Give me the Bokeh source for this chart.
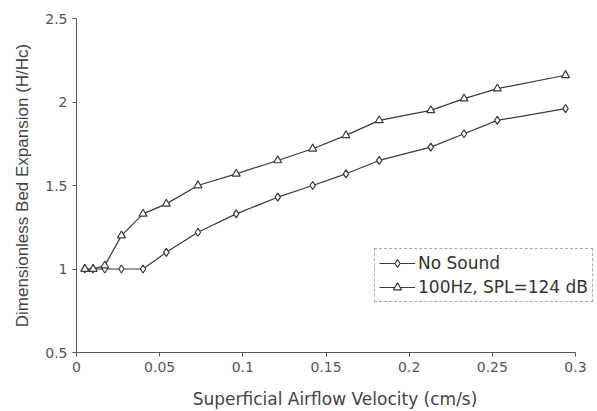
from bokeh.plotting import figure
from bokeh.models import FixedTicker, Range1d, Legend, LegendItem
from bokeh.embed import file_html
from bokeh.resources import INLINE

velocity = [0.005, 0.010, 0.017, 0.027, 0.040, 0.054, 0.073, 0.096, 0.121, 0.142,
            0.162, 0.182, 0.213, 0.233, 0.253, 0.294]
no_sound = [1.00, 1.00, 1.00, 1.00, 1.00, 1.10, 1.22, 1.33, 1.43, 1.50,
            1.57, 1.65, 1.73, 1.81, 1.89, 1.96]
sound_100hz = [1.00, 1.00, 1.02, 1.20, 1.33, 1.39, 1.50, 1.57, 1.65, 1.72,
               1.80, 1.89, 1.95, 2.02, 2.08, 2.16]
x_ticks = [0, 0.05, 0.1, 0.15, 0.2, 0.25, 0.3]
x_tick_labels = ["0", "0.05", "0.1", "0.15", "0.2", "0.25", "0.3"]
y_ticks = [0.5, 1, 1.5, 2, 2.5]
y_tick_labels = ["0.5", "1", "1.5", "2", "2.5"]
series_names = ["No Sound", "100Hz, SPL=124 dB"]

FONT = "DejaVu Sans"
LINE = "#3a3a3a"

# frame spans 76..593 px; the axis itself stops at 0.3 (575 px) so the legend can overhang
X_END = 0.3 * 517 / 499

p = figure(width=597, height=411, output_backend="svg", toolbar_location=None,
           x_range=Range1d(0, X_END), y_range=Range1d(0.5, 2.5),
           min_border_left=76, min_border_right=4, min_border_top=18, min_border_bottom=58)
p.outline_line_color = None
p.xgrid.visible = False
p.ygrid.visible = False
p.background_fill_color = "white"
p.border_fill_color = "white"

l1 = p.line(velocity, no_sound, line_color=LINE, line_width=1.2)
s1 = p.scatter(velocity, no_sound, marker="diamond", size=8, fill_color="white",
               line_color=LINE, line_width=1.2)
l2 = p.line(velocity, sound_100hz, line_color=LINE, line_width=1.2)
s2 = p.scatter(velocity, sound_100hz, marker="triangle", size=8, fill_color="white",
               line_color=LINE, line_width=1.2)

for ax in (p.xaxis[0], p.yaxis[0]):
    ax.axis_line_color = "#555555"
    ax.major_tick_line_color = "#555555"
    ax.minor_tick_line_color = None
    ax.major_tick_in = 0
    ax.major_tick_out = 4
    ax.major_label_text_font = FONT
    ax.major_label_text_font_size = "14px"
    ax.major_label_text_color = "#555555"
    ax.axis_label_text_font_style = "normal"
    ax.axis_label_text_color = "#444444"

p.xaxis[0].bounds = (0, 0.3)
p.xaxis[0].axis_label_text_font = FONT
p.xaxis[0].axis_label_text_font_size = "17px"
p.yaxis[0].axis_label_text_font = "Liberation Sans"
p.yaxis[0].axis_label_text_font_size = "17px"

p.xaxis[0].ticker = FixedTicker(ticks=x_ticks)
p.xaxis[0].major_label_overrides = {t: l for t, l in zip(x_ticks, x_tick_labels)}
p.yaxis[0].ticker = FixedTicker(ticks=y_ticks)
p.yaxis[0].major_label_overrides = {t: l for t, l in zip(y_ticks, y_tick_labels)}
p.xaxis[0].axis_label = "Superficial Airflow Velocity (cm/s)"
p.yaxis[0].axis_label = "Dimensionless Bed Expansion (H/Hc)"
p.xaxis[0].axis_label_standoff = 14
p.yaxis[0].axis_label_standoff = 10

legend = Legend(items=[LegendItem(label=series_names[0], renderers=[l1, s1]),
                       LegendItem(label=series_names[1], renderers=[l2, s2])],
                location=(298, 50),
                border_line_color="#555555", border_line_width=1,
                border_line_dash="3 1",
                background_fill_color="white", background_fill_alpha=1,
                label_text_font=FONT, label_text_font_size="17px",
                label_text_color="#333333",
                glyph_width=36, glyph_height=20, label_standoff=3,
                padding=4, spacing=4, margin=0)
p.add_layout(legend, "center")

open("out.html", "w").write(file_html(p, INLINE))
